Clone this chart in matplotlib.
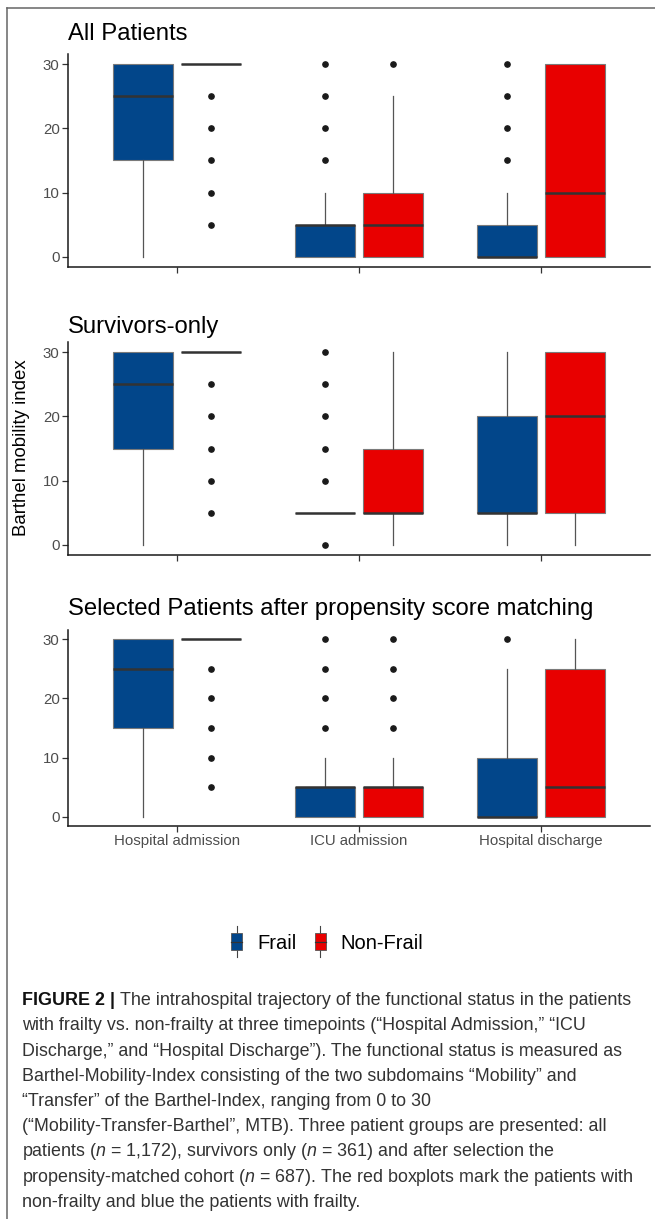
import matplotlib
matplotlib.use("Agg")
import matplotlib.pyplot as plt
from matplotlib.patches import Rectangle, Patch
from matplotlib.lines import Line2D
from matplotlib.legend_handler import HandlerBase

plt.rcParams['font.family'] = ['Liberation Sans', 'DejaVu Sans']
plt.rcParams['mathtext.fontset'] = 'custom'
plt.rcParams['mathtext.it'] = 'Liberation Sans:italic'
plt.rcParams['mathtext.rm'] = 'Liberation Sans'

W, H = 655, 1219

timepoints = ['Hospital admission', 'ICU admission', 'Hospital discharge']
groups = ['Frail', 'Non-Frail']
panel_titles = ['All Patients', 'Survivors-only',
                'Selected Patients after propensity score matching']

# box stats per timepoint: (whislo, q1, med, q3, whishi)
all_frail = [(0, 15, 25, 30, 30), (0, 0, 5, 5, 10), (0, 0, 0, 5, 10)]
all_frail_out = [[], [15, 20, 25, 30], [15, 20, 25, 30]]
all_nonfrail = [(30, 30, 30, 30, 30), (0, 0, 5, 10, 25), (0, 0, 10, 30, 30)]
all_nonfrail_out = [[5, 10, 15, 20, 25], [30], []]

surv_frail = [(0, 15, 25, 30, 30), (5, 5, 5, 5, 5), (0, 5, 5, 20, 30)]
surv_frail_out = [[], [0, 10, 15, 20, 25, 30], []]
surv_nonfrail = [(30, 30, 30, 30, 30), (0, 5, 5, 15, 30), (0, 5, 20, 30, 30)]
surv_nonfrail_out = [[5, 10, 15, 20, 25], [], []]

psm_frail = [(0, 15, 25, 30, 30), (0, 0, 5, 5, 10), (0, 0, 0, 10, 25)]
psm_frail_out = [[], [15, 20, 25, 30], [30]]
psm_nonfrail = [(30, 30, 30, 30, 30), (0, 0, 5, 5, 10), (0, 0, 5, 25, 30)]
psm_nonfrail_out = [[5, 10, 15, 20, 25], [15, 20, 25, 30], []]

panels = [
    (all_frail, all_frail_out, all_nonfrail, all_nonfrail_out),
    (surv_frail, surv_frail_out, surv_nonfrail, surv_nonfrail_out),
    (psm_frail, psm_frail_out, psm_nonfrail, psm_nonfrail_out),
]

colors = {'Frail': '#02468A', 'Non-Frail': '#E80000'}

caption_bold = "FIGURE 2 |"
caption_lines = [
    "The intrahospital trajectory of the functional status in the patients",
    "with frailty vs. non-frailty at three timepoints (\u201cHospital Admission,\u201d \u201cICU",
    "Discharge,\u201d and \u201cHospital Discharge\u201d). The functional status is measured as",
    "Barthel-Mobility-Index consisting of the two subdomains \u201cMobility\u201d and",
    "\u201cTransfer\u201d of the Barthel-Index, ranging from 0 to 30",
    "(\u201cMobility-Transfer-Barthel\u201d, MTB). Three patient groups are presented: all",
    "patients ($n$ = 1,172), survivors only ($n$ = 361) and after selection the",
    "propensity-matched cohort ($n$ = 687). The red boxplots mark the patients with",
    "non-frailty and blue the patients with frailty.",
]


def to_stats(boxes, outliers):
    stats = []
    for (lo, q1, med, q3, hi), out in zip(boxes, outliers):
        stats.append(dict(whislo=lo, q1=q1, med=med, q3=q3, whishi=hi, fliers=out))
    return stats


def px_axes(fig, left, top, right, bottom):
    return fig.add_axes([left / W, 1 - bottom / H, (right - left) / W, (bottom - top) / H])


fig = plt.figure(figsize=(W / 100, H / 100), dpi=100)

# pixel boxes of the three panels: (top, bottom)
panel_px = [(54.4, 266.6), (342.4, 554.6), (630.1, 825.9)]
title_base = [40, 333, 615]

for k, (frail, frail_out, nonf, nonf_out) in enumerate(panels):
    top, bottom = panel_px[k]
    ax = px_axes(fig, 68, top, 650, bottom)
    base = range(1, len(timepoints) + 1)
    for g, (boxes, outs) in zip(groups, [(frail, frail_out), (nonf, nonf_out)]):
        off = -0.1875 if g == 'Frail' else 0.1875
        ax.bxp(to_stats(boxes, outs), positions=[b + off for b in base], widths=0.33,
               patch_artist=True, showcaps=False, manage_ticks=False,
               boxprops=dict(facecolor=colors[g], edgecolor='#7a7a7a', linewidth=0.8),
               medianprops=dict(color='#333333', linewidth=1.8, solid_capstyle='butt'),
               whiskerprops=dict(color='#555555', linewidth=0.9),
               flierprops=dict(marker='o', markersize=3.8, markerfacecolor='#1a1a1a',
                               markeredgecolor='#1a1a1a'))
    ax.set_xlim(0.4, 3.6)
    ax.set_ylim(-1.5, 31.5)
    ax.set_yticks([0, 10, 20, 30])
    ax.set_xticks(list(base))
    if k == 2:
        ax.set_xticklabels(timepoints)
    else:
        ax.set_xticklabels([])
    for s in ['top', 'right']:
        ax.spines[s].set_visible(False)
    for s in ['left', 'bottom']:
        ax.spines[s].set_linewidth(1.1)
        ax.spines[s].set_color('#1a1a1a')
    ax.tick_params(axis='both', length=4, width=0.9, color='#333333',
                   labelcolor='#4d4d4d', labelsize=10.8, pad=2)
    fig.text(68 / W, 1 - title_base[k] / H, panel_titles[k], fontsize=17.2,
             ha='left', va='baseline', color='black')

fig.text(22 / W, 1 - 448 / H, 'Barthel mobility index', rotation=90,
         fontsize=13.4, ha='center', va='center', color='black')


class BoxKey(HandlerBase):
    def create_artists(self, legend, orig_handle, xdescent, ydescent,
                       width, height, fontsize, trans):
        cx = -xdescent + width / 2
        y0 = -ydescent
        bw = 8
        line = Line2D([cx, cx], [y0 - 5, y0 + height + 5], color='#444444',
                      linewidth=0.8, transform=trans)
        box = Rectangle((cx - bw / 2, y0), bw, height, facecolor=orig_handle.get_facecolor(),
                        edgecolor='#555555', linewidth=0.6, transform=trans)
        med = Line2D([cx - bw / 2, cx + bw / 2], [y0 + height / 2] * 2, color='#333333',
                     linewidth=0.9, transform=trans)
        return [line, box, med]


handles = [Patch(facecolor=colors[g]) for g in groups]
fig.legend(handles, groups, loc='center', bbox_to_anchor=(326 / W, 1 - 943 / H),
           ncol=2, frameon=False, fontsize=14.5, handler_map={Patch: BoxKey()},
           handlelength=0.8, handleheight=0.9, handletextpad=0.6, columnspacing=0.8)

# caption
cap_x = 22 / W
base0 = 1005
step = 25.25
cap_size = 12.9
bold = fig.text(cap_x, 1 - base0 / H, caption_bold, fontsize=cap_size, fontweight='bold',
                color='#111111', ha='left', va='baseline')
fig.canvas.draw()
bb = bold.get_window_extent()
for i, line in enumerate(caption_lines):
    x = (bb.x1 + 5) / W if i == 0 else cap_x
    fig.text(x, 1 - (base0 + i * step) / H, line, fontsize=cap_size, color='#333333',
             ha='left', va='baseline')

# outer frame lines
fig.add_artist(Line2D([7 / W, 1], [1 - 8 / H, 1 - 8 / H], color='#666666', linewidth=1.1))
fig.add_artist(Line2D([7 / W, 7 / W], [1 - 8 / H, 0], color='#666666', linewidth=1.1))

fig.savefig('out.png', dpi=100)
